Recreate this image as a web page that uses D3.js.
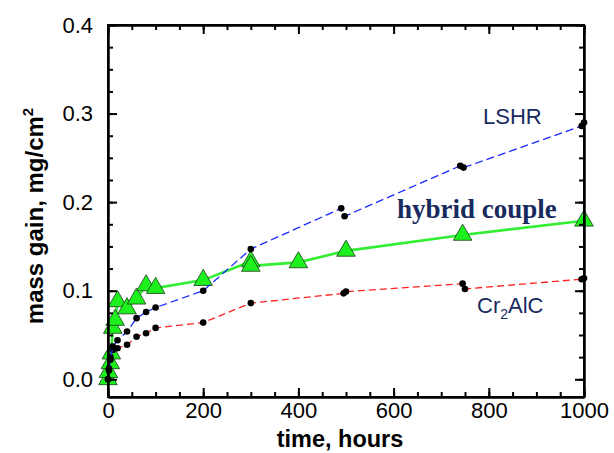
<!DOCTYPE html>
<html>
<head>
<meta charset="utf-8">
<script src="https://cdn.jsdelivr.net/npm/d3@7"></script>
<style>
  body { margin: 0; background: #fff; }
  svg { display: block; font-family: "Liberation Sans", Arial, sans-serif; }
</style>
</head>
<body>
<svg id="chart" width="614" height="453"></svg>
<script>
// time (hours) / mass gain (mg/cm2)
var lshrTime = [0, 2, 5, 10, 20, 40, 60, 80, 100, 200, 300, 490, 497, 740, 747, 995, 1000];
var lshrGain = [0.000, 0.010, 0.022, 0.037, 0.044, 0.054, 0.069, 0.076, 0.081, 0.100, 0.147, 0.193, 0.184, 0.241, 0.239, 0.286, 0.290];

var crTime = [0, 2, 5, 10, 20, 40, 60, 80, 100, 200, 300, 495, 500, 745, 750, 995, 1000];
var crGain = [0.000, 0.012, 0.025, 0.033, 0.035, 0.039, 0.048, 0.052, 0.058, 0.064, 0.086, 0.097, 0.099, 0.108, 0.102, 0.113, 0.114];

var hybTime = [0, 1, 5, 7, 10, 15, 20, 40, 60, 80, 100, 200, 300, 300, 400, 500, 745, 1000];
var hybGain = [0.000, 0.008, 0.018, 0.029, 0.058, 0.067, 0.088, 0.080, 0.091, 0.106, 0.103, 0.112, 0.133, 0.128, 0.132, 0.145, 0.163, 0.179];

var xMajor = [0, 200, 400, 600, 800, 1000];
var xMinor = d3.range(0, 1001, 50);
var yMajor = [0, 0.1, 0.2, 0.3, 0.4];
var yMinor = d3.range(0, 0.4001, 0.025);

function zip(t, v) {
    return t.map(function (d, i) { return [d, v[i]]; });
}

var svg = d3.select('#chart');
var plotLeft = 108, plotRight = 584, plotTop = 25, plotBottom = 397;

var x = d3.scaleLinear().domain([0, 1000]).range([plotLeft, plotRight]);
var y = d3.scaleLinear().domain([-0.02, 0.4]).range([plotBottom, plotTop]);

var line = d3.line()
    .x(function (d) { return x(d[0]); })
    .y(function (d) { return y(d[1]); });

// hybrid couple: solid green with triangles
var hyb = zip(hybTime, hybGain);
svg.append('path')
    .attr('d', line(hyb))
    .attr('fill', 'none')
    .attr('stroke', '#33ee33')
    .attr('stroke-width', 2.6);

svg.selectAll('.tri')
    .data(hyb)
    .enter()
    .append('path')
    .attr('class', 'tri')
    .attr('d', d3.symbol(d3.symbolTriangle, 150))
    .attr('transform', function (d) { return 'translate(' + x(d[0]) + ',' + y(d[1]) + ')'; })
    .attr('fill', '#1ef01e')
    .attr('stroke', '#1a3a1a')
    .attr('stroke-width', 0.8);

// dashed series with black dots
[
    { data: zip(crTime, crGain), color: '#ff2222', dash: '7,4' },
    { data: zip(lshrTime, lshrGain), color: '#1a2aff', dash: '8,4' }
].forEach(function (s) {
    svg.append('path')
        .attr('d', line(s.data))
        .attr('fill', 'none')
        .attr('stroke', s.color)
        .attr('stroke-width', 1.3)
        .attr('stroke-dasharray', s.dash);

    svg.append('g')
        .selectAll('circle')
        .data(s.data)
        .enter()
        .append('circle')
        .attr('cx', function (d) { return x(d[0]); })
        .attr('cy', function (d) { return y(d[1]); })
        .attr('r', 3.3)
        .attr('fill', '#000');
});

// axes, ticks pointing inward on all four sides
function styleAxis(g) {
    g.selectAll('path, line').attr('stroke', '#000').attr('stroke-width', 2);
    g.selectAll('text')
        .attr('fill', '#000')
        .style('font-size', '22px')
        .style('font-family', '"Liberation Sans", Arial, sans-serif');
}

svg.append('g')
    .attr('transform', 'translate(0,' + plotBottom + ')')
    .call(d3.axisBottom(x).tickValues(xMinor).tickSize(-5).tickSizeOuter(0).tickFormat(''))
    .call(styleAxis);
svg.append('g')
    .attr('transform', 'translate(0,' + plotBottom + ')')
    .call(d3.axisBottom(x).tickValues(xMajor).tickSize(-9).tickSizeOuter(0).tickPadding(5).tickFormat(d3.format('d')))
    .call(styleAxis);

svg.append('g')
    .attr('transform', 'translate(0,' + plotTop + ')')
    .call(d3.axisTop(x).tickValues(xMinor).tickSize(-5).tickSizeOuter(0).tickFormat(''))
    .call(styleAxis);
svg.append('g')
    .attr('transform', 'translate(0,' + plotTop + ')')
    .call(d3.axisTop(x).tickValues(xMajor).tickSize(-9).tickSizeOuter(0).tickFormat(''))
    .call(styleAxis);

svg.append('g')
    .attr('transform', 'translate(' + plotLeft + ',0)')
    .call(d3.axisLeft(y).tickValues(yMinor).tickSize(-5).tickSizeOuter(0).tickFormat(''))
    .call(styleAxis);
svg.append('g')
    .attr('transform', 'translate(' + plotLeft + ',0)')
    .call(d3.axisLeft(y).tickValues(yMajor).tickSize(-9).tickSizeOuter(0).tickPadding(15).tickFormat(d3.format('.1f')))
    .call(styleAxis);

svg.append('g')
    .attr('transform', 'translate(' + plotRight + ',0)')
    .call(d3.axisRight(y).tickValues(yMinor).tickSize(-5).tickSizeOuter(0).tickFormat(''))
    .call(styleAxis);
svg.append('g')
    .attr('transform', 'translate(' + plotRight + ',0)')
    .call(d3.axisRight(y).tickValues(yMajor).tickSize(-9).tickSizeOuter(0).tickFormat(''))
    .call(styleAxis);

// frame so the side lines run down to the bottom axis
svg.append('rect')
    .attr('x', plotLeft).attr('y', plotTop)
    .attr('width', plotRight - plotLeft).attr('height', plotBottom - plotTop)
    .attr('fill', 'none')
    .attr('stroke', '#000')
    .attr('stroke-width', 2);

// axis titles
svg.append('text')
    .attr('x', (plotLeft + plotRight) / 2 - 6)
    .attr('y', 447)
    .attr('text-anchor', 'middle')
    .style('font-size', '23.5px')
    .style('font-weight', 'bold')
    .text('time, hours');

var yt = svg.append('text')
    .attr('transform', 'translate(43,216) rotate(-90)')
    .attr('text-anchor', 'middle')
    .style('font-size', '24px')
    .style('font-weight', 'bold');
yt.append('tspan').text('mass gain, mg/cm');
yt.append('tspan').attr('dy', -10).style('font-size', '15px').text('2');

// series labels
var navy = '#182a5e';
svg.append('text')
    .attr('x', 483).attr('y', 124)
    .attr('fill', navy)
    .style('font-size', '22px')
    .text('LSHR');

svg.append('text')
    .attr('x', 397).attr('y', 218)
    .attr('fill', navy)
    .style('font-size', '27px')
    .style('font-weight', 'bold')
    .style('font-family', '"Liberation Serif", "Times New Roman", serif')
    .text('hybrid couple');

var cr = svg.append('text')
    .attr('x', 477).attr('y', 313)
    .attr('fill', navy)
    .style('font-size', '22px');
cr.append('tspan').text('Cr');
cr.append('tspan').attr('dy', 6).style('font-size', '14px').text('2');
cr.append('tspan').attr('dy', -6).text('AlC');
</script>
</body>
</html>
